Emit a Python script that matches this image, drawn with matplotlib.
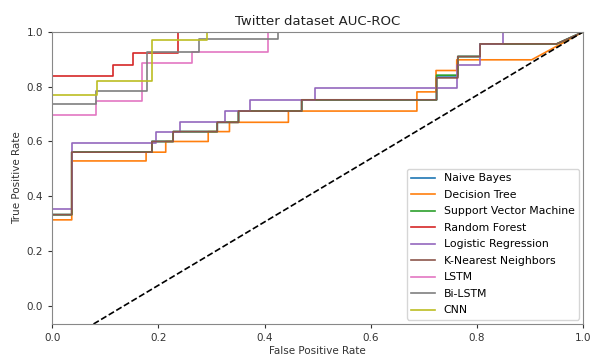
import matplotlib.pyplot as plt

# ROC step curves (fpr, tpr)
nb_fpr = [0, 0.037, 0.037, 0.188, 0.188, 0.228, 0.228, 0.311, 0.311, 0.351, 0.351, 0.470, 0.470, 0.724, 0.724, 0.764, 0.764, 0.806, 0.806, 0.95, 1.0]
nb_tpr = [0.333, 0.333, 0.561, 0.561, 0.600, 0.600, 0.636, 0.636, 0.670, 0.670, 0.711, 0.711, 0.752, 0.752, 0.835, 0.835, 0.91, 0.91, 0.956, 0.956, 1.0]

dt_fpr = [0, 0.037, 0.037, 0.177, 0.177, 0.214, 0.214, 0.294, 0.294, 0.334, 0.334, 0.445, 0.445, 0.687, 0.687, 0.723, 0.723, 0.762, 0.762, 0.903, 1.0]
dt_tpr = [0.314, 0.314, 0.529, 0.529, 0.561, 0.561, 0.600, 0.600, 0.636, 0.636, 0.670, 0.670, 0.711, 0.711, 0.781, 0.781, 0.859, 0.859, 0.898, 0.898, 1.0]

svm_fpr = [0, 0.037, 0.037, 0.188, 0.188, 0.228, 0.228, 0.311, 0.311, 0.351, 0.351, 0.470, 0.470, 0.724, 0.724, 0.764, 0.764, 0.806, 0.806, 0.95, 1.0]
svm_tpr = [0.333, 0.333, 0.561, 0.561, 0.600, 0.600, 0.636, 0.636, 0.670, 0.670, 0.711, 0.711, 0.752, 0.752, 0.842, 0.842, 0.91, 0.91, 0.956, 0.956, 1.0]

rf_fpr = [0, 0.114, 0.114, 0.153, 0.153, 0.238, 0.238, 1.0]
rf_tpr = [0.84, 0.84, 0.88, 0.88, 0.922, 0.922, 1.0, 1.0]

lr_fpr = [0, 0.037, 0.037, 0.196, 0.196, 0.240, 0.240, 0.326, 0.326, 0.372, 0.372, 0.495, 0.495, 0.762, 0.762, 0.806, 0.806, 0.849, 0.849, 1.0]
lr_tpr = [0.354, 0.354, 0.594, 0.594, 0.633, 0.633, 0.670, 0.670, 0.711, 0.711, 0.752, 0.752, 0.794, 0.794, 0.880, 0.880, 0.956, 0.956, 1.0, 1.0]

knn_fpr = [0, 0.037, 0.037, 0.188, 0.188, 0.228, 0.228, 0.311, 0.311, 0.351, 0.351, 0.470, 0.470, 0.724, 0.724, 0.764, 0.764, 0.806, 0.806, 0.95, 1.0]
knn_tpr = [0.333, 0.333, 0.561, 0.561, 0.600, 0.600, 0.636, 0.636, 0.670, 0.670, 0.711, 0.711, 0.752, 0.752, 0.832, 0.832, 0.91, 0.91, 0.956, 0.956, 1.0]

lstm_fpr = [0, 0.082, 0.082, 0.170, 0.170, 0.264, 0.264, 0.406, 0.406, 1.0]
lstm_tpr = [0.698, 0.698, 0.746, 0.746, 0.886, 0.886, 0.927, 0.927, 1.0, 1.0]

bilstm_fpr = [0, 0.082, 0.082, 0.179, 0.179, 0.277, 0.277, 0.426, 0.426, 1.0]
bilstm_tpr = [0.736, 0.736, 0.785, 0.785, 0.927, 0.927, 0.974, 0.974, 1.0, 1.0]

cnn_fpr = [0, 0.084, 0.084, 0.189, 0.189, 0.291, 0.291, 1.0]
cnn_tpr = [0.771, 0.771, 0.819, 0.819, 0.971, 0.971, 1.0, 1.0]

models = ["Naive Bayes", "Decision Tree", "Support Vector Machine", "Random Forest",
          "Logistic Regression", "K-Nearest Neighbors", "LSTM", "Bi-LSTM", "CNN"]
curves = [(nb_fpr, nb_tpr), (dt_fpr, dt_tpr), (svm_fpr, svm_tpr), (rf_fpr, rf_tpr),
          (lr_fpr, lr_tpr), (knn_fpr, knn_tpr), (lstm_fpr, lstm_tpr),
          (bilstm_fpr, bilstm_tpr), (cnn_fpr, cnn_tpr)]

# chance line as it appears in the picture
diag_x = [0.078, 1.0]
diag_y = [-0.066, 1.0]

fig = plt.figure(figsize=(5.92, 3.58), dpi=100)
ax = fig.add_axes([0.088, 0.095, 0.897, 0.816])

for name, (fpr, tpr) in zip(models, curves):
    ax.plot(fpr, tpr, lw=1.2, label=name)
ax.plot(diag_x, diag_y, 'k--', lw=1.2)

ax.set_xlim(0, 1.0)
ax.set_ylim(-0.066, 1.0)
ax.set_xticks([0, 0.2, 0.4, 0.6, 0.8, 1.0])
ax.set_yticks([0, 0.2, 0.4, 0.6, 0.8, 1.0])
ax.tick_params(labelsize=7.5, colors='#333333', length=3)
for s in ax.spines.values():
    s.set_color('#888888')
ax.set_xlabel('False Positive Rate', fontsize=7.5, color='#333333', labelpad=2)
ax.set_ylabel('True Positive Rate', fontsize=7.5, color='#333333', labelpad=3)
ax.set_title('Twitter dataset AUC-ROC', fontsize=9.5, color='#222222', pad=5)
ax.legend(loc='lower right', fontsize=7.8, labelspacing=0.6, handlelength=2.2,
          borderaxespad=0.4)

fig.savefig('out.png', dpi=100)
